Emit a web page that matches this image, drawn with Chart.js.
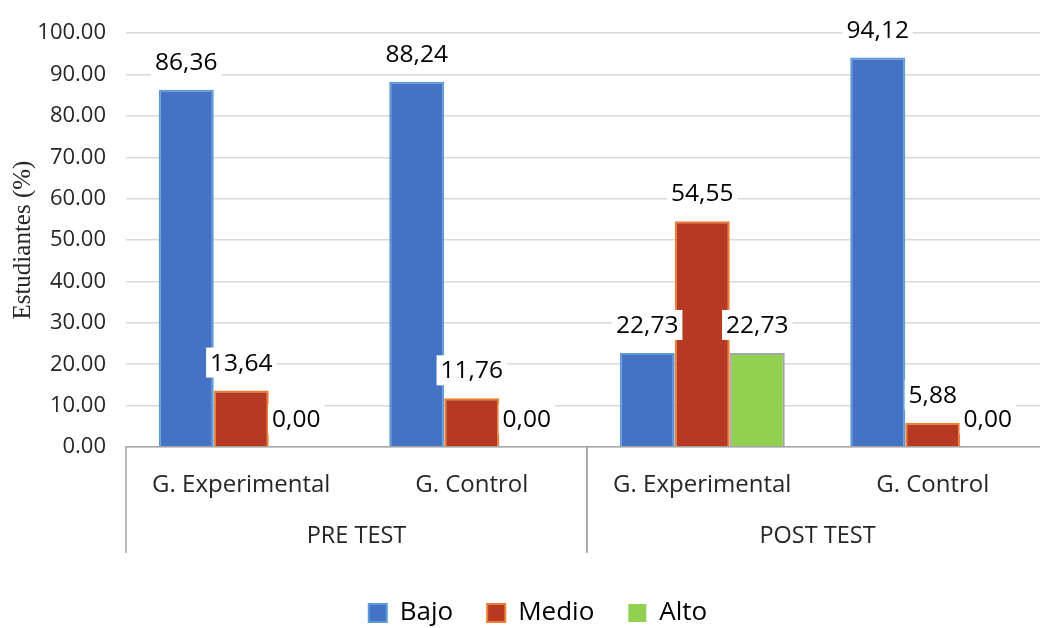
<!DOCTYPE html>
<html>
<head>
<meta charset="utf-8">
<script src="https://cdn.jsdelivr.net/npm/chart.js@4.4.1/dist/chart.umd.min.js"></script>
<style>
  html, body { margin: 0; padding: 0; background: #fff; overflow: hidden; }
  #wrap { width: 1050px; height: 628px; }
</style>
</head>
<body>
<div id="wrap"><canvas id="chart"></canvas></div>
<script>
// Chart data
var categories = ['G. Experimental', 'G. Control', 'G. Experimental', 'G. Control'];
var groups = ['PRE TEST', 'POST TEST'];
var groupSize = 2;
var bajo = [86.36, 88.24, 22.73, 94.12];
var medio = [13.64, 11.76, 54.55, 5.88];
var alto = [0.00, 0.00, 22.73, 0.00];
var yTicks = [0, 10, 20, 30, 40, 50, 60, 70, 80, 90, 100];

var FONT = '"Open Sans", "Liberation Sans", sans-serif';

// Value labels with a white box, drawn above each bar
var valueLabels = {
    id: 'valueLabels',
    afterDatasetsDraw: function(chart) {
        var ctx = chart.ctx;
        ctx.save();
        ctx.font = '24.5px ' + FONT;
        ctx.textAlign = 'center';
        ctx.textBaseline = 'middle';
        chart.data.datasets.forEach(function(ds, i) {
            chart.getDatasetMeta(i).data.forEach(function(bar, j) {
                var text = ds.data[j].toFixed(2).replace('.', ',');
                var w = ctx.measureText(text).width + 8;
                var cy = bar.y - 28;
                ctx.fillStyle = '#ffffff';
                ctx.fillRect(bar.x - w / 2, cy - 15, w, 30);
                ctx.fillStyle = '#000000';
                ctx.fillText(text, bar.x, cy + 1);
            });
        });
        ctx.restore();
    }
};

// Second row of the category axis (PRE TEST / POST TEST) and separators
var groupAxis = {
    id: 'groupAxis',
    afterDraw: function(chart) {
        var ctx = chart.ctx;
        var x = chart.scales.x;
        var area = chart.chartArea;
        var half = (x.getPixelForTick(1) - x.getPixelForTick(0)) / 2;
        var top = area.bottom;
        var bottom = area.bottom + 106;
        ctx.save();
        ctx.strokeStyle = '#a6a6a6';
        ctx.lineWidth = 1.5;
        ctx.font = '23.5px ' + FONT;
        ctx.fillStyle = '#262626';
        ctx.textAlign = 'center';
        ctx.textBaseline = 'middle';
        groups.forEach(function(name, g) {
            var first = g * groupSize;
            var last = first + groupSize - 1;
            var left = x.getPixelForTick(first) - half;
            var right = x.getPixelForTick(last) + half;
            ctx.beginPath();
            ctx.moveTo(left, top);
            ctx.lineTo(left, bottom);
            ctx.moveTo(right, top);
            ctx.lineTo(right, bottom);
            ctx.stroke();
            ctx.fillText(name, (left + right) / 2, area.bottom + 89);
        });
        ctx.restore();
    }
};

new Chart(document.getElementById('chart'), {
    type: 'bar',
    data: {
        labels: categories,
        datasets: [{
            label: 'Bajo',
            data: bajo,
            backgroundColor: '#4472c4',
            borderColor: '#5b9bd5',
            borderWidth: 2
        }, {
            label: 'Medio',
            data: medio,
            backgroundColor: '#b53a21',
            borderColor: '#ed7d31',
            borderWidth: 2
        }, {
            label: 'Alto',
            data: alto,
            backgroundColor: '#92d050',
            borderColor: '#a5a5a5',
            borderWidth: function(c) { return c.raw === 0 ? 0 : 2; }
        }]
    },
    options: {
        responsive: true,
        maintainAspectRatio: false,
        animation: false,
        layout: {
            padding: { top: 32, right: 2, bottom: -8, left: 28 }
        },
        datasets: {
            bar: {
                categoryPercentage: 0.716,
                barPercentage: 1.0
            }
        },
        scales: {
            x: {
                grid: { display: false },
                border: { color: '#a6a6a6', width: 1.5 },
                ticks: {
                    color: '#262626',
                    font: { family: FONT, size: 24 },
                    padding: 16,
                    maxRotation: 0
                },
                afterFit: function(s) { s.height = 119; }
            },
            y: {
                min: 0,
                max: 100,
                afterBuildTicks: function(s) {
                    s.ticks = yTicks.map(function(v) { return { value: v }; });
                },
                grid: { color: '#d9d9d9', lineWidth: 1.5, drawTicks: false },
                border: { display: false },
                ticks: {
                    color: '#262626',
                    font: { family: FONT, size: 22 },
                    padding: 20,
                    callback: function(v) { return Number(v).toFixed(2); }
                },
                title: {
                    display: true,
                    text: 'Estudiantes (%)',
                    color: '#262626',
                    font: { family: '"Liberation Serif", "Times New Roman", serif', size: 25 },
                    padding: { top: -20, bottom: 0 }
                },
                afterFit: function(s) { s.width = 98; }
            }
        },
        plugins: {
            legend: {
                position: 'bottom',
                labels: {
                    color: '#000000',
                    font: { family: FONT, size: 26 },
                    boxWidth: 18,
                    boxHeight: 18,
                    padding: 34
                }
            },
            tooltip: { enabled: false }
        }
    },
    plugins: [valueLabels, groupAxis]
});
</script>
</body>
</html>
